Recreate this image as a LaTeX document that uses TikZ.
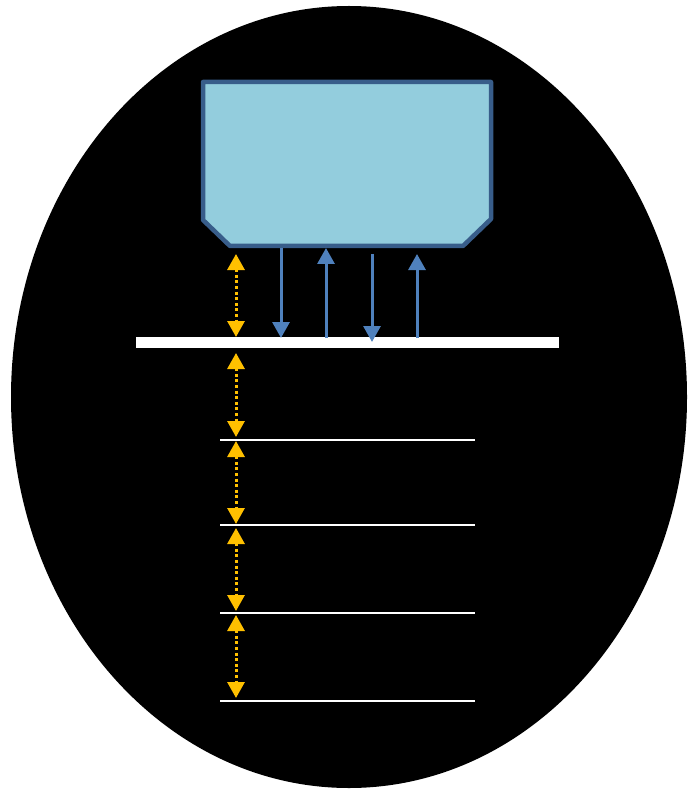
\documentclass[tikz,border=0pt]{standalone}
\usetikzlibrary{arrows.meta}
\definecolor{boxfill}{HTML}{93CDDD}
\definecolor{boxedge}{HTML}{385D8A}
\definecolor{flow}{HTML}{4F81BD}
\definecolor{gapcol}{HTML}{FFC000}
\tikzset{
  flowarrow/.style={draw=flow, line width=3pt, -{Triangle[length=16pt,width=17pt]}},
  gaparrow/.style={draw=gapcol, line width=3pt, dash pattern=on 3pt off 2.6pt,
    {Triangle[length=16pt,width=17pt]}-{Triangle[length=16pt,width=17pt]}},
  thinline/.style={draw=white, line width=2.6pt},
  thickline/.style={draw=white, line width=11pt}
}
\begin{document}
\begin{tikzpicture}[x=1pt,y=-1pt]
\useasboundingbox (0,0) rectangle (687,791);
\fill[white] (0,0) rectangle (687,791);
% background ellipse
\fill[black] (349,397) ellipse [x radius=338, y radius=391];
% box
\draw[fill=boxfill, draw=boxedge, line width=4.5pt, line join=round]
  (203,82) -- (491,82) -- (491,219) -- (463,246) -- (230,246) -- (203,220) -- cycle;
\coordinate (box) at (347,164);
% thick bar
\coordinate (barL) at (136,342.5);
\coordinate (barR) at (559,342.5);
\draw[thickline] (barL) -- (barR);
% thin lines
\foreach \n/\y in {1/440,2/525,3/613,4/701}{
  \coordinate (l\n L) at (220,\y);
  \coordinate (l\n R) at (475,\y);
  \draw[thinline] (l\n L) -- (l\n R);
}
% blue arrows
\coordinate (a1s) at (281,248); \coordinate (a1e) at (281,338);
\coordinate (a2s) at (326,338); \coordinate (a2e) at (326,248);
\coordinate (a3s) at (372,254); \coordinate (a3e) at (372,342);
\coordinate (a4s) at (417,338); \coordinate (a4e) at (417,254);
\draw[flowarrow] (a1s) -- (a1e);
\draw[flowarrow] (a2s) -- (a2e);
\draw[flowarrow] (a3s) -- (a3e);
\draw[flowarrow] (a4s) -- (a4e);
% orange gap arrows
\foreach \n/\a/\b in {1/254/337,2/353/437,3/441/524,4/528/611,5/615/698}{
  \coordinate (g\n t) at (236,\a);
  \coordinate (g\n b) at (236,\b);
  \draw[gaparrow] (g\n t) -- (g\n b);
}
\end{tikzpicture}
\end{document}
